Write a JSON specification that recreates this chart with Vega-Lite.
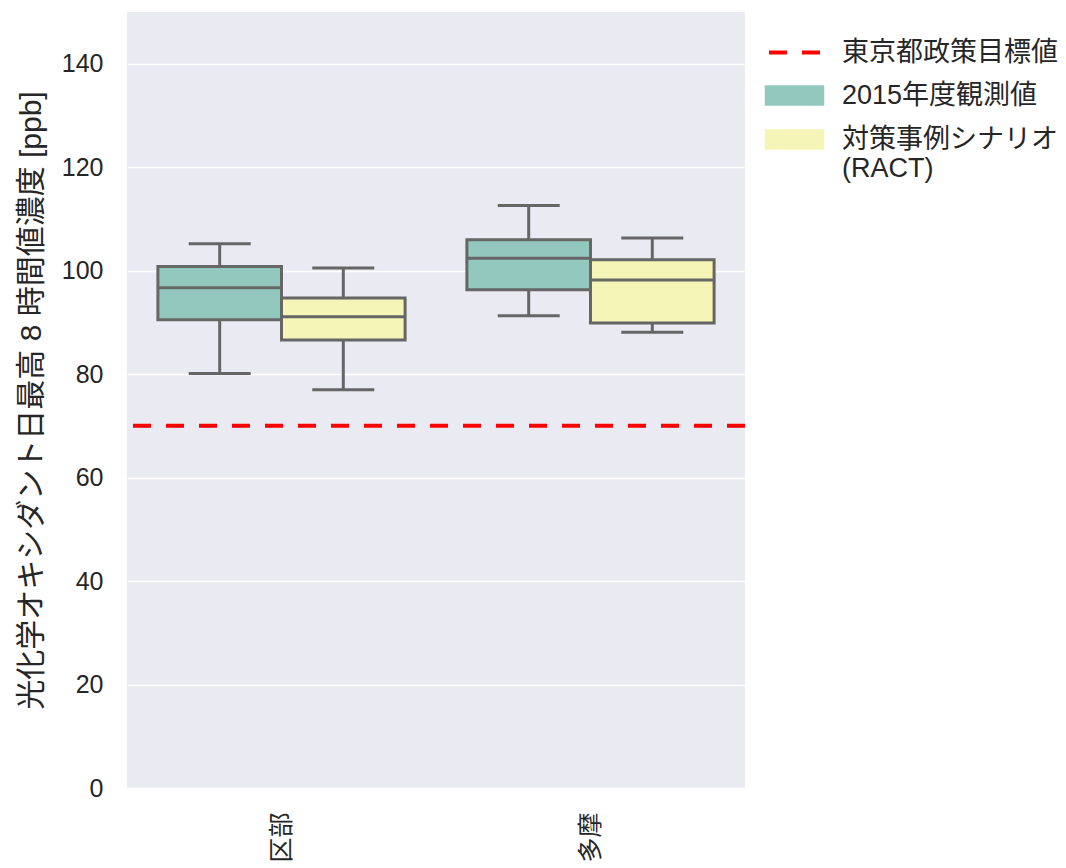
{
  "$schema": "https://vega.github.io/schema/vega-lite/v6.json",
  "autosize": "none",
  "width": 618,
  "height": 776,
  "padding": {"left": 127, "top": 12, "right": 321, "bottom": 80},
  "background": "white",
  "datasets": {
    "boxes": [
      {"region": "区部", "series": "2015年度観測値", "lower": 80.1, "q1": 90.5, "median": 96.7, "q3": 100.8, "upper": 105.2},
      {"region": "区部", "series": "対策事例シナリオ (RACT)", "lower": 77.0, "q1": 86.6, "median": 91.1, "q3": 94.7, "upper": 100.5},
      {"region": "多摩", "series": "2015年度観測値", "lower": 91.3, "q1": 96.3, "median": 102.4, "q3": 106.0, "upper": 112.6},
      {"region": "多摩", "series": "対策事例シナリオ (RACT)", "lower": 88.1, "q1": 89.9, "median": 98.2, "q3": 102.1, "upper": 106.3}
    ],
    "target": [
      {"series": "東京都政策目標値", "value": 70}
    ]
  },
  "config": {
    "font": "Liberation Sans, 'Noto Sans CJK JP', sans-serif",
    "view": {"fill": "#EAEAF2", "stroke": null},
    "axis": {
      "domain": false,
      "ticks": false,
      "labelColor": "#262626",
      "titleColor": "#262626",
      "labelFont": "Liberation Sans, 'Noto Sans CJK JP', sans-serif",
      "titleFont": "Liberation Sans, 'Noto Sans CJK JP', sans-serif",
      "titleFontWeight": "normal"
    },
    "legend": {
      "orient": "right",
      "offset": 9,
      "padding": 27,
      "labelFont": "Liberation Sans, 'Noto Sans CJK JP', sans-serif",
      "labelColor": "#262626",
      "labelFontSize": 27,
      "labelLimit": 400,
      "labelOffset": 34,
      "rowPadding": 15,
      "symbolType": "M-2.85,-0.9H2.85V0.9H-2.85Z",
      "symbolSize": 400,
      "symbolStrokeWidth": 2,
      "symbolStrokeColor": "#666666"
    }
  },
  "layer": [
    {
      "data": {"name": "boxes"},
      "mark": {"type": "rule", "color": "#666666", "strokeWidth": 3},
      "encoding": {
        "x": {
          "field": "region", "type": "nominal", "sort": ["区部", "多摩"],
          "scale": {"paddingInner": 0.2, "paddingOuter": 0.1},
          "axis": {"title": null, "labelAngle": 270, "labelFontSize": 25, "labelPadding": 24, "grid": false}
        },
        "xOffset": {"field": "series", "type": "nominal", "scale": {"domain": ["2015年度観測値", "対策事例シナリオ (RACT)"], "paddingInner": 0, "paddingOuter": 0}},
        "y": {
          "field": "lower", "type": "quantitative",
          "scale": {"domain": [0, 150], "nice": false},
          "axis": {
            "values": [0, 20, 40, 60, 80, 100, 120, 140],
            "gridColor": "white", "gridWidth": 1.5,
            "labelFontSize": 25, "labelPadding": 24,
            "title": "光化学オキシダント日最高 8 時間値濃度 [ppb]",
            "titleFontSize": 30, "titlePadding": 15
          }
        },
        "y2": {"field": "upper"}
      }
    },
    {
      "data": {"name": "boxes"},
      "mark": {"type": "bar", "stroke": "#666666", "strokeWidth": 3, "fillOpacity": 1},
      "encoding": {
        "x": {"field": "region", "type": "nominal", "sort": ["区部", "多摩"]},
        "xOffset": {"field": "series", "type": "nominal"},
        "y": {"field": "q1", "type": "quantitative"},
        "y2": {"field": "q3"},
        "color": {
          "field": "series", "type": "nominal",
          "scale": {
            "domain": ["東京都政策目標値", "2015年度観測値", "対策事例シナリオ (RACT)"],
            "range": ["#ff0000", "#93C8BF", "#F5F5B8"]
          },
          "legend": {
            "title": null,
            "labelExpr": "datum.label == '対策事例シナリオ (RACT)' ? ['対策事例シナリオ', '(RACT)'] : datum.label",
            "encode": {
              "symbols": {
                "update": {
                  "shape": {"signal": "datum.value == '東京都政策目標値' ? 'M-2.55,0H2.55' : 'M-2.85,-0.9H2.85V0.9H-2.85Z'"},
                  "stroke": {"signal": "datum.value == '東京都政策目標値' ? '#ff0000' : '#666666'"},
                  "strokeWidth": {"signal": "datum.value == '東京都政策目標値' ? 4 : 2.5"},
                  "strokeDash": {"signal": "datum.value == '東京都政策目標値' ? [18, 15] : [400, 0]"},
                  "fill": {"signal": "datum.value == '東京都政策目標値' ? 'transparent' : scale('color', datum.value)"},
                  "opacity": {"value": 1},
                  "fillOpacity": {"value": 1},
                  "strokeOpacity": {"value": 1}
                }
              }
            }
          }
        }
      }
    },
    {
      "data": {"name": "boxes"},
      "mark": {"type": "tick", "color": "#666666", "thickness": 3, "size": 123, "opacity": 1},
      "encoding": {
        "x": {"field": "region", "type": "nominal", "sort": ["区部", "多摩"]},
        "xOffset": {"field": "series", "type": "nominal"},
        "y": {"field": "median", "type": "quantitative"}
      }
    },
    {
      "data": {"name": "boxes"},
      "mark": {"type": "tick", "color": "#666666", "thickness": 3, "size": 62, "opacity": 1},
      "encoding": {
        "x": {"field": "region", "type": "nominal", "sort": ["区部", "多摩"]},
        "xOffset": {"field": "series", "type": "nominal"},
        "y": {"field": "lower", "type": "quantitative"}
      }
    },
    {
      "data": {"name": "boxes"},
      "mark": {"type": "tick", "color": "#666666", "thickness": 3, "size": 62, "opacity": 1},
      "encoding": {
        "x": {"field": "region", "type": "nominal", "sort": ["区部", "多摩"]},
        "xOffset": {"field": "series", "type": "nominal"},
        "y": {"field": "upper", "type": "quantitative"}
      }
    },
    {
      "data": {"name": "target"},
      "mark": {"type": "rule", "strokeWidth": 4, "strokeDash": [18, 15]},
      "encoding": {
        "y": {"field": "value", "type": "quantitative"},
        "color": {"field": "series", "type": "nominal", "legend": null}
      }
    }
  ]
}
